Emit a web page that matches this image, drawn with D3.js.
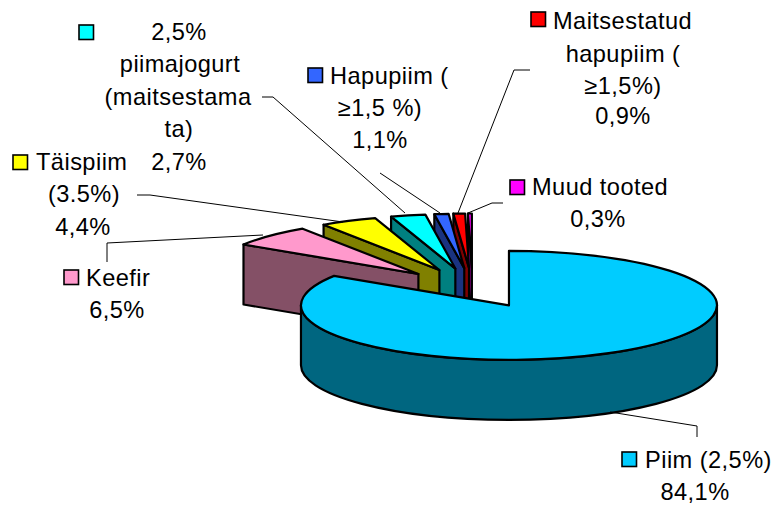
<!DOCTYPE html>
<html><head><meta charset="utf-8">
<script src="https://cdn.jsdelivr.net/npm/d3@7/dist/d3.min.js"></script>
<style>html,body{margin:0;padding:0;background:#fff}svg{display:block}text{font-family:"Liberation Sans",Arial,sans-serif;font-size:23.6px;letter-spacing:0.45px;fill:#000}</style>
</head><body><svg id="c" width="774" height="508"></svg>
<script>
const categories = ["Piim (2,5%)","Keefir","Täispiim (3.5%)","2,5% piimajogurt (maitsestamata)","Hapupiim (≥1,5 %)","Maitsestatud hapupiim (≥1,5%)","Muud tooted"];
const values = [84.1,6.5,4.4,2.7,1.1,0.9,0.3];
const valueLabels = ["84,1%","6,5%","4,4%","2,7%","1,1%","0,9%","0,3%"];
const topColors = ["#00ccff","#ff99cc","#ffff00","#00ffff","#3366ff","#ff0000","#ff00ff"];
const wallColors = ["#006680","#845066","#808000","#008080","#1a3380","#800000","#800080"];

// label layout: text lines [text, x, baseline, anchor]
const labelLines = [
 [["Piim (2,5%)",645,468,"start"],["84,1%",695,500,"middle"]],
 [["Keefir",86,286,"start"],["6,5%",117,318,"middle"]],
 [["Täispiim",36,170,"start"],["(3.5%)",84,202,"middle"],["4,4%",83,235,"middle"]],
 [["2,5%",179,40,"middle"],["piimajogurt",180,72,"middle"],["(maitsestama",178,105,"middle"],["ta)",179,137,"middle"],["2,7%",179,170,"middle"]],
 [["Hapupiim (",330,84,"start"],["≥1,5 %)",380,116,"middle"],["1,1%",380,148,"middle"]],
 [["Maitsestatud",553,29,"start"],["hapupiim (",623,62,"middle"],["≥1,5%)",623,94,"middle"],["0,9%",623,124,"middle"]],
 [["Muud tooted",532,195,"start"],["0,3%",598,227,"middle"]]
];
const keyPos = [[622,452],[64,270],[13,155],[79,25],[308,68],[531,12],[510,180]];
const leaders = [
 [[610,412],[697,426],[697,437]],
 [[107,262],[107,243],[263,235]],
 [[137,195],[150,195],[343,222]],
 [[262,97],[273,97],[405,213]],
 [[380,173],[440,213]],
 [[530,70],[514,70],[458,213]],
 [[503,203],[492,203],[468,213]]
];

const cx=472.6, cy=287.9, rx=208, ry=54.5, depth=60, explode=0.365;
const svg=d3.select("#c");
const pie=d3.pie().sort(null).value(d=>d).startAngle(0).endAngle(2*Math.PI);
const arcs=pie(values);
const pt=(a,o,dy=0)=>[o[0]+rx*Math.sin(a),o[1]-ry*Math.cos(a)+dy];
const fmt=p=>p[0].toFixed(2)+","+p[1].toFixed(2);
const slices=arcs.map((d,i)=>{
  const mid=(d.startAngle+d.endAngle)/2;
  return {i,d,o:[cx+explode*rx*Math.sin(mid),cy-explode*ry*Math.cos(mid)]};
});
const layer=svg.append("g").attr("stroke","#000").attr("stroke-width",2.2).attr("stroke-linejoin","round");
const order=slices.slice().sort((a,b)=>b.i-a.i);
order.forEach(s=>{
  const g=layer.append("g"),a0=s.d.startAngle,a1=s.d.endAngle,o=s.o;
  const w0=Math.max(a0,Math.PI/2),w1=Math.min(a1,3*Math.PI/2);
  if(w1>w0){
    g.append("path").attr("fill",wallColors[s.i]).attr("d",
     `M${fmt(pt(w0,o))}A${rx},${ry} 0 ${w1-w0>Math.PI?1:0} 1 ${fmt(pt(w1,o))}`+
     `L${fmt(pt(w1,o,depth))}A${rx},${ry} 0 ${w1-w0>Math.PI?1:0} 0 ${fmt(pt(w0,o,depth))}Z`);
  }
  if(s.i>0){
    g.append("path").attr("fill",wallColors[s.i]).attr("d",
     `M${fmt(o)}L${fmt(pt(a0,o))}L${fmt(pt(a0,o,depth))}L${fmt([o[0],o[1]+depth])}Z`);
  }
  g.append("path").attr("fill",topColors[s.i]).attr("d",
     `M${fmt(o)}L${fmt(pt(a0,o))}A${rx},${ry} 0 ${a1-a0>Math.PI?1:0} 1 ${fmt(pt(a1,o))}Z`);
});
const line=d3.line();
svg.append("g").selectAll("path").data(leaders).join("path")
  .attr("d",line).attr("fill","none").attr("stroke","#000").attr("stroke-width",1);
svg.append("g").selectAll("rect").data(keyPos).join("rect")
  .attr("x",d=>d[0]).attr("y",d=>d[1]).attr("width",14.5).attr("height",14.5)
  .attr("fill",(d,i)=>topColors[i]).attr("stroke","#000").attr("stroke-width",1.6);
svg.append("g").selectAll("text").data(labelLines.flat()).join("text")
  .attr("x",d=>d[1]).attr("y",d=>d[2]).attr("text-anchor",d=>d[3]).text(d=>d[0]);
</script></body></html>
